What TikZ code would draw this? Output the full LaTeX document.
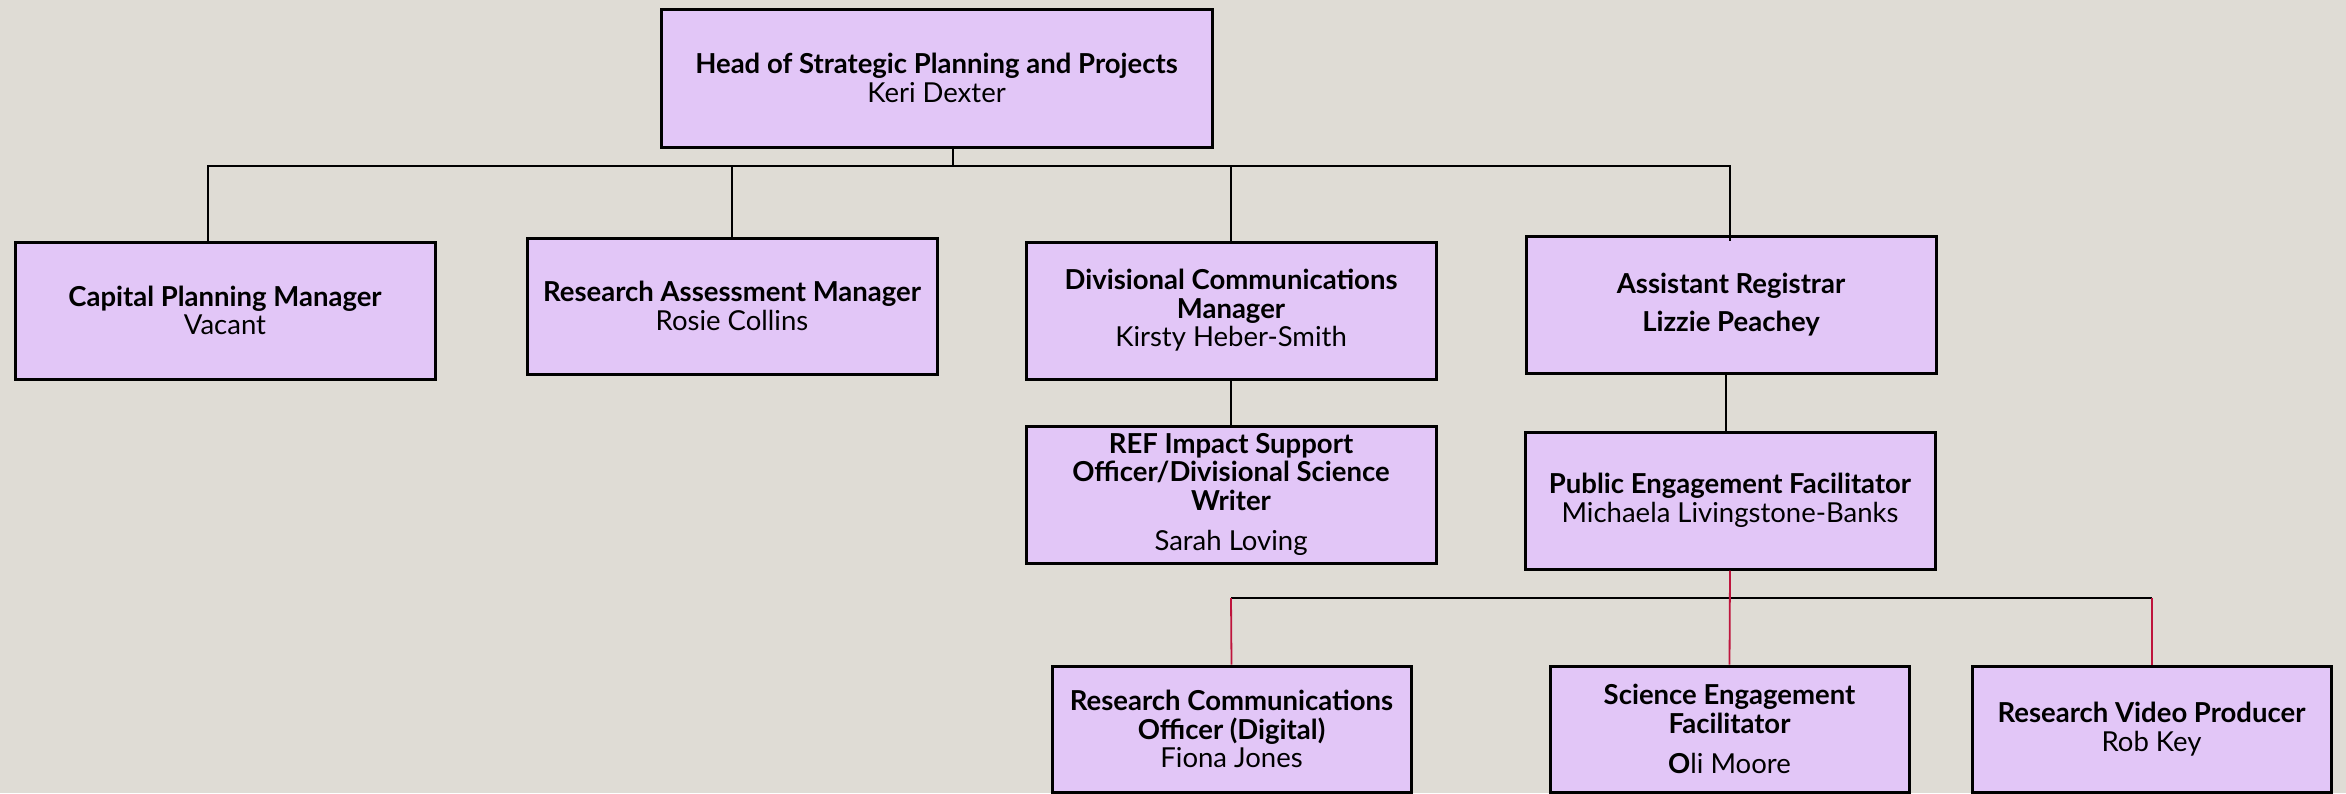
\documentclass[tikz,border=0pt]{standalone}
\usepackage{fontspec}
\setmainfont{Lato}
\usetikzlibrary{calc}
\definecolor{bg}{RGB}{223,220,213}
\definecolor{boxfill}{RGB}{226,198,247}
\definecolor{redline}{RGB}{190,20,60}
\begin{document}
\begin{tikzpicture}[x=1pt,y=-1pt,
  box/.style={draw=black, line width=3pt, fill=boxfill, align=center, inner sep=0pt,
    font=\fontsize{27.5}{28.5}\selectfont},
  conn/.style={draw=black, line width=2.8pt},
  rconn/.style={draw=redline, line width=1.8pt}]
\useasboundingbox (0,0) rectangle (2346,793);
\fill[bg] (0,0) rectangle (2346,793);
% level 0
\node[box, minimum width=551pt, minimum height=138pt] (top) at (936.5,78)
  {\textbf{Head of Strategic Planning and Projects}\\Keri Dexter};
% level 1
\node[box, minimum width=420pt, minimum height=137pt] (cap) at (225,310.5)
  {\textbf{Capital Planning Manager}\\Vacant};
\node[box, minimum width=410pt, minimum height=136pt] (ram) at (732,306)
  {\textbf{Research Assessment Manager}\\Rosie Collins};
\node[box, minimum width=410pt, minimum height=137pt] (dcm) at (1231,310.5)
  {\textbf{Divisional Communications}\\\textbf{Manager}\\Kirsty Heber-Smith};
\node[box, minimum width=410pt, minimum height=137pt] (ar) at (1731,304.5)
  {\textbf{Assistant Registrar}\\[10pt]\textbf{Lizzie Peachey}};
% level 2
\node[box, minimum width=410pt, minimum height=137pt] (ref) at (1231,494.5)
  {\textbf{REF Impact Support}\\\textbf{Officer/Divisional Science}\\\textbf{Writer}\\[12pt]Sarah Loving};
\node[box, minimum width=410pt, minimum height=137pt] (pef) at (1730,500.5)
  {\textbf{Public Engagement Facilitator}\\Michaela Livingstone-Banks};
% level 3
\node[box, minimum width=359pt, minimum height=126pt] (rco) at (1231.5,729)
  {\textbf{Research Communications}\\\textbf{Officer (Digital)}\\Fiona Jones};
\node[box, minimum width=359pt, minimum height=126pt] (sef) at (1729.5,729)
  {\textbf{Science Engagement}\\\textbf{Facilitator}\\[12pt]\textbf{O}li Moore};
\node[box, minimum width=359pt, minimum height=126pt] (rvp) at (2151.5,729)
  {\textbf{Research Video Producer}\\Rob Key};
% bus 1
\coordinate (t0) at (953,166);
\coordinate (d1) at (208,166);
\coordinate (d2) at (732,166);
\coordinate (d3) at (1231,166);
\coordinate (d4) at (1730,166);
\draw[conn] (t0 |- top.south) -- (t0);
\draw[conn, line cap=rect] (d1) -- (d4);
\draw[conn] (d1) -- (d1 |- cap.north);
\draw[conn] (d2) -- (ram.north);
\draw[conn] (d3) -- (dcm.north);
\draw[conn] (d4) -- ($(d4 |- ar.north)+(0,6)$);
% level 2 links
\draw[conn] (dcm.south) -- (ref.north);
\coordinate (a1) at (1726,373);
\draw[conn] (a1) -- (a1 |- pef.north);
% bus 2
\coordinate (e1) at (1231,598);
\coordinate (e3) at (2152,598);
\draw[conn] (e1) -- (e3);
\draw[rconn] (e1) -- (rco.north);
\draw[rconn] (e3) -- (e3 |- rvp.north);
\draw[rconn] (pef.south) -- (sef.north);
\end{tikzpicture}
\end{document}
